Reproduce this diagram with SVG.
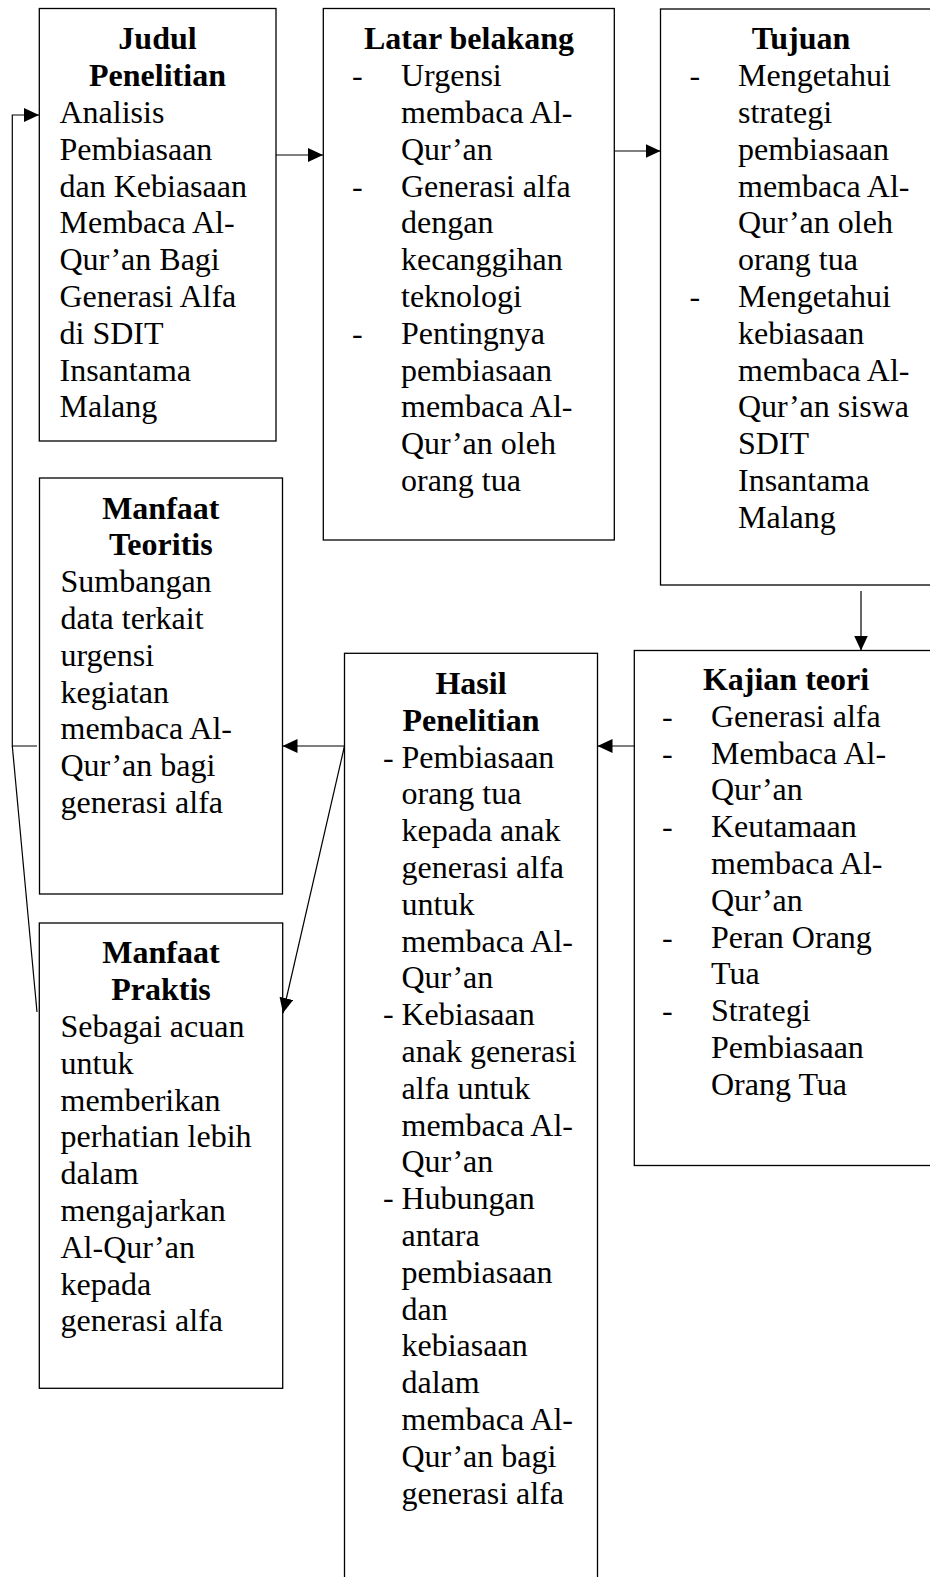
<svg xmlns="http://www.w3.org/2000/svg" width="930" height="1577" viewBox="0 0 930 1577">
<style>
.box{fill:#fff;stroke:#000;stroke-width:1.3}
.t{font-family:"Liberation Serif","Times New Roman",serif;font-size:32px;fill:#000}
.b{font-weight:bold;text-anchor:middle}
.c{fill:none;stroke:#000;stroke-width:1.2}
</style>
<defs>
<marker id="ah" markerUnits="userSpaceOnUse" markerWidth="16" markerHeight="15" refX="15" refY="7" orient="auto">
<path d="M0,0 L15,7 L0,14 z" fill="#000"/>
</marker>
</defs>
<rect width="930" height="1577" fill="#fff"/>

<g id="judul">
<rect class="box" x="39.3" y="8.5" width="236.7" height="432.5"/>
<text class="t b" x="157.5" y="49.3">Judul</text>
<text class="t b" x="157.5" y="86.1">Penelitian</text>
<text class="t" x="59.5">
<tspan x="59.5" y="122.9">Analisis</tspan>
<tspan x="59.5" y="159.7">Pembiasaan</tspan>
<tspan x="59.5" y="196.5">dan Kebiasaan</tspan>
<tspan x="59.5" y="233.3">Membaca Al-</tspan>
<tspan x="59.5" y="270.1">Qur’an Bagi</tspan>
<tspan x="59.5" y="306.9">Generasi Alfa</tspan>
<tspan x="59.5" y="343.7">di SDIT</tspan>
<tspan x="59.5" y="380.5">Insantama</tspan>
<tspan x="59.5" y="417.3">Malang</tspan>
</text>
</g>

<g id="latar">
<rect class="box" x="323.3" y="8.5" width="291" height="531.5"/>
<text class="t b" x="469" y="49.3">Latar belakang</text>
<text class="t">
<tspan x="352" y="86.1">-</tspan>
<tspan x="352" y="196.5">-</tspan>
<tspan x="352" y="343.7">-</tspan>
</text>
<text class="t">
<tspan x="401" y="86.1">Urgensi</tspan>
<tspan x="401" y="122.9">membaca Al-</tspan>
<tspan x="401" y="159.7">Qur’an</tspan>
<tspan x="401" y="196.5">Generasi alfa</tspan>
<tspan x="401" y="233.3">dengan</tspan>
<tspan x="401" y="270.1">kecanggihan</tspan>
<tspan x="401" y="306.9">teknologi</tspan>
<tspan x="401" y="343.7">Pentingnya</tspan>
<tspan x="401" y="380.5">pembiasaan</tspan>
<tspan x="401" y="417.3">membaca Al-</tspan>
<tspan x="401" y="454.1">Qur’an oleh</tspan>
<tspan x="401" y="490.9">orang tua</tspan>
</text>
</g>

<g id="tujuan">
<rect class="box" x="660.5" y="9" width="300" height="576"/>
<text class="t b" x="801" y="49.3">Tujuan</text>
<text class="t">
<tspan x="689.5" y="86.1">-</tspan>
<tspan x="689.5" y="306.9">-</tspan>
</text>
<text class="t">
<tspan x="738" y="86.1">Mengetahui</tspan>
<tspan x="738" y="122.9">strategi</tspan>
<tspan x="738" y="159.7">pembiasaan</tspan>
<tspan x="738" y="196.5">membaca Al-</tspan>
<tspan x="738" y="233.3">Qur’an oleh</tspan>
<tspan x="738" y="270.1">orang tua</tspan>
<tspan x="738" y="306.9">Mengetahui</tspan>
<tspan x="738" y="343.7">kebiasaan</tspan>
<tspan x="738" y="380.5">membaca Al-</tspan>
<tspan x="738" y="417.3">Qur’an siswa</tspan>
<tspan x="738" y="454.1">SDIT</tspan>
<tspan x="738" y="490.9">Insantama</tspan>
<tspan x="738" y="527.7">Malang</tspan>
</text>
</g>

<g id="kajian">
<rect class="box" x="634.3" y="650.5" width="320" height="515"/>
<text class="t b" x="786" y="690">Kajian teori</text>
<text class="t">
<tspan x="662" y="726.8">-</tspan>
<tspan x="662" y="763.6">-</tspan>
<tspan x="662" y="837.2">-</tspan>
<tspan x="662" y="947.6">-</tspan>
<tspan x="662" y="1021.2">-</tspan>
</text>
<text class="t">
<tspan x="711" y="726.8">Generasi alfa</tspan>
<tspan x="711" y="763.6">Membaca Al-</tspan>
<tspan x="711" y="800.4">Qur’an</tspan>
<tspan x="711" y="837.2">Keutamaan</tspan>
<tspan x="711" y="874">membaca Al-</tspan>
<tspan x="711" y="910.8">Qur’an</tspan>
<tspan x="711" y="947.6">Peran Orang</tspan>
<tspan x="711" y="984.4">Tua</tspan>
<tspan x="711" y="1021.2">Strategi</tspan>
<tspan x="711" y="1058">Pembiasaan</tspan>
<tspan x="711" y="1094.8">Orang Tua</tspan>
</text>
</g>

<g id="hasil">
<rect class="box" x="344.5" y="653.3" width="253" height="1000"/>
<text class="t b" x="471" y="694">Hasil</text>
<text class="t b" x="471" y="730.8">Penelitian</text>
<text class="t">
<tspan x="383" y="767.6">-</tspan>
<tspan x="383" y="1024.4">-</tspan>
<tspan x="383" y="1208.4">-</tspan>
</text>
<text class="t">
<tspan x="401.5" y="767.6">Pembiasaan</tspan>
<tspan x="401.5" y="804.4">orang tua</tspan>
<tspan x="401.5" y="841.2">kepada anak</tspan>
<tspan x="401.5" y="878">generasi alfa</tspan>
<tspan x="401.5" y="914.8">untuk</tspan>
<tspan x="401.5" y="951.6">membaca Al-</tspan>
<tspan x="401.5" y="988.4">Qur’an</tspan>
<tspan x="401.5" y="1025.2">Kebiasaan</tspan>
<tspan x="401.5" y="1062">anak generasi</tspan>
<tspan x="401.5" y="1098.8">alfa untuk</tspan>
<tspan x="401.5" y="1135.6">membaca Al-</tspan>
<tspan x="401.5" y="1172.4">Qur’an</tspan>
<tspan x="401.5" y="1209.2">Hubungan</tspan>
<tspan x="401.5" y="1246">antara</tspan>
<tspan x="401.5" y="1282.8">pembiasaan</tspan>
<tspan x="401.5" y="1319.6">dan</tspan>
<tspan x="401.5" y="1356.4">kebiasaan</tspan>
<tspan x="401.5" y="1393.2">dalam</tspan>
<tspan x="401.5" y="1430">membaca Al-</tspan>
<tspan x="401.5" y="1466.8">Qur’an bagi</tspan>
<tspan x="401.5" y="1503.6">generasi alfa</tspan>
</text>
</g>

<g id="teoritis">
<rect class="box" x="39.5" y="478" width="243" height="416"/>
<text class="t b" x="160.8" y="518.5">Manfaat</text>
<text class="t b" x="160.8" y="555.3">Teoritis</text>
<text class="t">
<tspan x="60.5" y="592.1">Sumbangan</tspan>
<tspan x="60.5" y="628.9">data terkait</tspan>
<tspan x="60.5" y="665.7">urgensi</tspan>
<tspan x="60.5" y="702.5">kegiatan</tspan>
<tspan x="60.5" y="739.3">membaca Al-</tspan>
<tspan x="60.5" y="776.1">Qur’an bagi</tspan>
<tspan x="60.5" y="812.9">generasi alfa</tspan>
</text>
</g>

<g id="praktis">
<rect class="box" x="39.3" y="923" width="243.4" height="465.3"/>
<text class="t b" x="161" y="963.3">Manfaat</text>
<text class="t b" x="161" y="1000.1">Praktis</text>
<text class="t">
<tspan x="60.5" y="1036.9">Sebagai acuan</tspan>
<tspan x="60.5" y="1073.7">untuk</tspan>
<tspan x="60.5" y="1110.5">memberikan</tspan>
<tspan x="60.5" y="1147.3">perhatian lebih</tspan>
<tspan x="60.5" y="1184.1">dalam</tspan>
<tspan x="60.5" y="1220.9">mengajarkan</tspan>
<tspan x="60.5" y="1257.7">Al-Qur’an</tspan>
<tspan x="60.5" y="1294.5">kepada</tspan>
<tspan x="60.5" y="1331.3">generasi alfa</tspan>
</text>
</g>

<g id="connectors">
<line class="c" x1="276" y1="155" x2="323" y2="155" marker-end="url(#ah)"/>
<line class="c" x1="614.3" y1="151" x2="660.5" y2="151" marker-end="url(#ah)"/>
<line class="c" x1="861" y1="591" x2="861" y2="650.5" marker-end="url(#ah)"/>
<line class="c" x1="634.3" y1="746" x2="597.5" y2="746" marker-end="url(#ah)"/>
<line class="c" x1="344.5" y1="746" x2="282.5" y2="746" marker-end="url(#ah)"/>
<line class="c" x1="344.5" y1="746" x2="283" y2="1013" marker-end="url(#ah)"/>
<polyline class="c" points="37,746 12.3,746 12.3,115 39,115" marker-end="url(#ah)"/>
<line class="c" x1="37" y1="1012" x2="12.3" y2="746"/>
</g>
</svg>
